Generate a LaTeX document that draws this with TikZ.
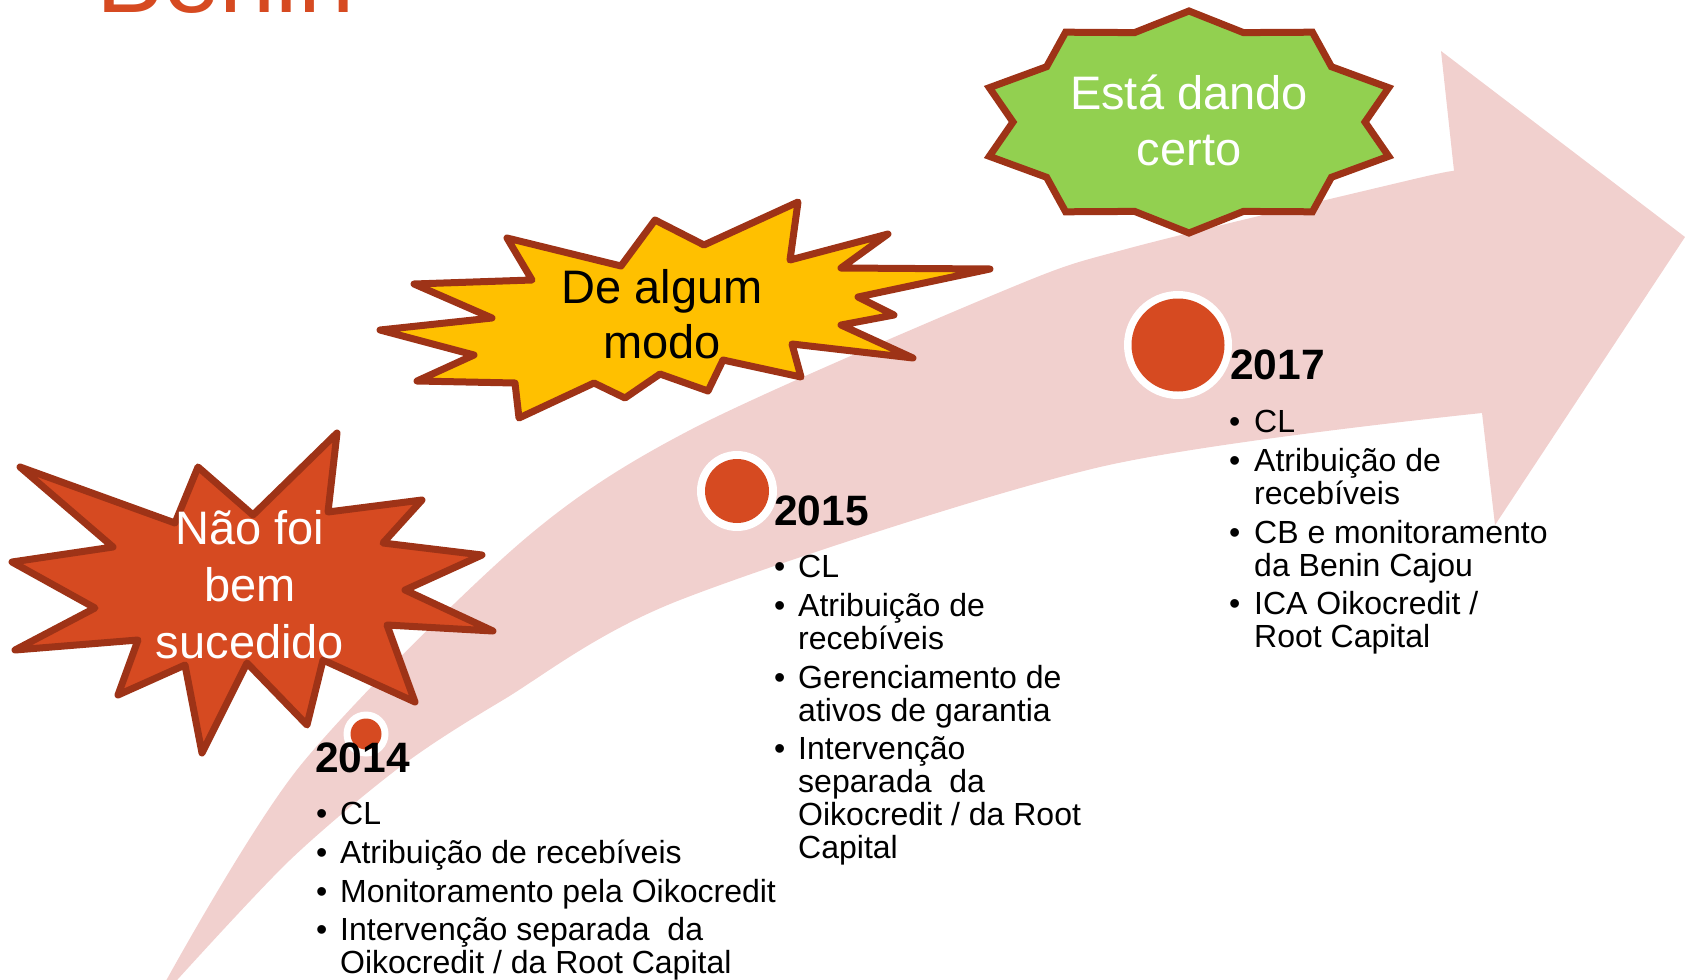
\documentclass[tikz,border=0pt]{standalone}
\usepackage{fontspec}
\setmainfont{Liberation Sans}
\definecolor{arrowC}{HTML}{F1D0CE}
\definecolor{dotC}{HTML}{D64A21}
\definecolor{borderC}{HTML}{9E3317}
\definecolor{greenC}{HTML}{92D050}
\definecolor{yellowC}{HTML}{FFC000}
\newcommand\ltext[2]{\vtop{\lineskiplimit=-1000pt\baselineskip=#1\relax\halign{##\hfil\cr#2\crcr}}}
\newcommand\ctext[2]{\vtop{\lineskiplimit=-1000pt\baselineskip=#1\relax\halign{\hfil##\hfil\cr#2\crcr}}}
\begin{document}
\begin{tikzpicture}[x=1pt,y=-1pt,
  burst/.style={draw=borderC, line width=7pt, line join=round},
  burstg/.style={draw=borderC, line width=7pt, line join=miter, fill=greenC},
  startxt/.style={anchor=base, inner sep=0pt, font=\fontsize{47}{56}\selectfont},
  yeartxt/.style={anchor=base west, inner sep=0pt, font=\fontsize{42.5}{50}\selectfont\bfseries},
  itemtxt/.style={anchor=base west, inner sep=0pt, font=\fontsize{32}{33}\selectfont},
  bul/.style={anchor=base west, inner sep=0pt, font=\fontsize{32}{33}\selectfont},
  ring/.style={circle, fill=white, inner sep=0pt},
  dot/.style={circle, fill=dotC, inner sep=0pt}]
\useasboundingbox (0,0) rectangle (1685,979);
\clip (0,0) rectangle (1685,979);

% title (cut off)
\node[anchor=base west, inner sep=0pt, text=dotC, font=\fontsize{101}{120}\selectfont] (title) at (96,13) {Benin};

% big curved arrow
\fill[arrowC] (160,990) -- plot[smooth] coordinates {(167,979) (300,766) (520,543) (692,429) (1010,288) (1130,248) (1410,180) (1454,171)}
  -- (1441,51) -- (1685,237) -- (1495,525)
  -- plot[smooth] coordinates {(1482,413) (1100,467) (680,600) (503,700) (400,767) (290,860) (178,979)}
  -- (168,990) -- cycle;

% red explosion
\draw[burst, fill=dotC] (20,467) -- (113,547) -- (12,562) -- (95,608) -- (15,650) -- (138,640) -- (118,695) -- (185,665) -- (202,753) -- (247,663) -- (307,725) -- (323,660) -- (415,702) -- (387,625) -- (493,631) -- (405,590) -- (482,555) -- (383,543) -- (422,500) -- (328,512) -- (337,433) -- (253,515) -- (198,467) -- (175,523) -- cycle;

% yellow explosion
\draw[burst, fill=yellowC] (507,238) -- (621,266) -- (655,220) -- (704,245) -- (798,202) -- (790,260) -- (888,234) -- (841,268) -- (990,269) -- (858,297) -- (894,315) -- (841,325) -- (913,358) -- (792,344) -- (801,377) -- (723,360) -- (708,391) -- (660,374) -- (625,398) -- (594,383) -- (519,418) -- (515,383) -- (417,381) -- (474,355) -- (380,330) -- (492,318) -- (414,284) -- (532,280) -- cycle;

% green 10-point star
\draw[burstg] (1189,11) -- (1243.4,32.6) -- (1312.4,32.2) -- (1331.4,66.7) -- (1388.7,87.7) -- (1365,122) -- (1388.7,156.3) -- (1331.4,177.3) -- (1312.4,211.8) -- (1243.4,211.4) -- (1189,233) -- (1134.6,211.4) -- (1065.6,211.8) -- (1046.6,177.3) -- (989.3,156.3) -- (1013,122) -- (989.3,87.7) -- (1046.6,66.7) -- (1065.6,32.2) -- (1134.6,32.6) -- cycle;

% star texts
\node[startxt, text=white] (t1) at (250,544) {\ctext{57pt}{Não foi\cr bem\cr sucedido}};
\node[startxt, text=black] (t2) at (662,303) {\ctext{55pt}{De algum\cr modo}};
\node[startxt, text=white] (t3) at (1189,110) {\ctext{56pt}{Está dando\cr certo}};

% milestone dots
\node[ring, minimum size=45pt] (r14) at (366,734) {};
\node[dot, minimum size=31pt] (d14) at (r14) {};
\node[ring, minimum size=80pt] (r15) at (737,491) {};
\node[dot, minimum size=64pt] (d15) at (r15) {};
\node[ring, minimum size=108pt] (r17) at (1178,345) {};
\node[dot, minimum size=93pt] (d17) at (r17) {};

% 2014
\node[yeartxt] (y14) at (315,772) {2014};
\node[bul] (b14a) at (316,824) {•};
\node[itemtxt] (i14a) at (340,824) {CL};
\node[bul] (b14b) at (316,863) {•};
\node[itemtxt] (i14b) at (340,863) {Atribuição de recebíveis};
\node[bul] (b14c) at (316,902) {•};
\node[itemtxt] (i14c) at (340,902) {Monitoramento pela Oikocredit};
\node[bul] (b14d) at (316,940) {•};
\node[itemtxt] (i14d) at (340,940) {\ltext{33pt}{Intervenção separada~ da\cr Oikocredit / da Root Capital}};

% 2015
\node[yeartxt] (y15) at (774,525) {2015};
\node[bul] (b15a) at (774,577) {•};
\node[itemtxt] (i15a) at (798,577) {CL};
\node[bul] (b15b) at (774,616) {•};
\node[itemtxt] (i15b) at (798,616) {\ltext{33pt}{Atribuição de\cr recebíveis}};
\node[bul] (b15c) at (774,688) {•};
\node[itemtxt] (i15c) at (798,688) {\ltext{33pt}{Gerenciamento de\cr ativos de garantia}};
\node[bul] (b15d) at (774,759) {•};
\node[itemtxt] (i15d) at (798,759) {\ltext{33pt}{Intervenção\cr separada~ da\cr Oikocredit / da Root\cr Capital}};

% 2017
\node[yeartxt] (y17) at (1230,379) {2017};
\node[bul] (b17a) at (1229,432) {•};
\node[itemtxt] (i17a) at (1254,432) {CL};
\node[bul] (b17b) at (1229,471) {•};
\node[itemtxt] (i17b) at (1254,471) {\ltext{33pt}{Atribuição de\cr recebíveis}};
\node[bul] (b17c) at (1229,543) {•};
\node[itemtxt] (i17c) at (1254,543) {\ltext{33pt}{CB e monitoramento\cr da Benin Cajou}};
\node[bul] (b17d) at (1229,614) {•};
\node[itemtxt] (i17d) at (1254,614) {\ltext{33pt}{ICA Oikocredit /\cr Root Capital}};
\end{tikzpicture}
\end{document}
